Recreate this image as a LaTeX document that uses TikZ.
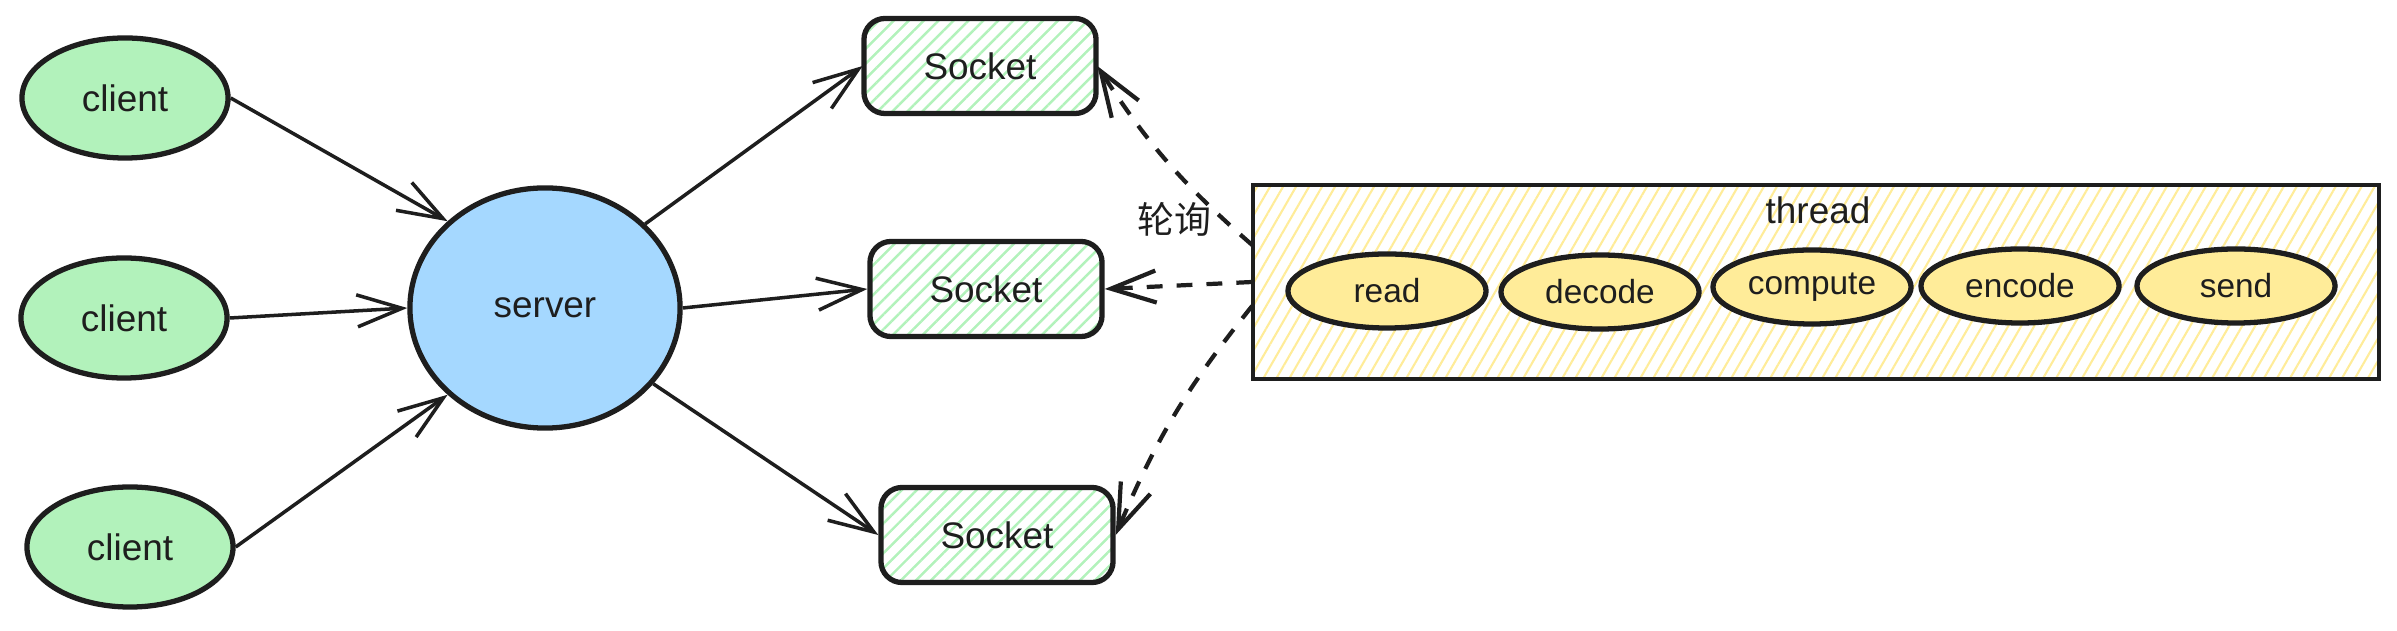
\documentclass[tikz,border=0pt]{standalone}
\usepackage{fontspec}
\setmainfont{Liberation Sans}
\newfontfamily\cjk{Noto Sans CJK SC}
\usetikzlibrary{positioning,arrows.meta,patterns.meta,shapes.geometric}

\definecolor{ink}{HTML}{1E1E1E}
\definecolor{cligreen}{HTML}{B2F2BB}
\definecolor{srvblue}{HTML}{A5D8FF}
\definecolor{stepyellow}{HTML}{FFEC99}

\begin{document}
\begin{tikzpicture}[x=0.01cm, y=-0.01cm,
    every node/.style={font=\fontsize{10.5}{12}\selectfont, text=ink},
    client/.style={ellipse, draw=ink, line width=1.5pt, fill=cligreen,
        minimum width=2.06cm, minimum height=1.2cm},
    server/.style={ellipse, draw=ink, line width=1.5pt, fill=srvblue,
        minimum width=2.7cm, minimum height=2.4cm},
    socket/.style={rectangle, rounded corners=6pt, draw=ink, line width=1.5pt,
        pattern={Lines[angle=45,distance=3pt,line width=0.7pt]}, pattern color=cligreen,
        minimum width=2.32cm, minimum height=0.95cm},
    threadbox/.style={rectangle, draw=ink, line width=1.2pt,
        pattern={Lines[angle=60,distance=3.2pt,line width=0.6pt]}, pattern color=stepyellow,
        minimum width=11.25cm, minimum height=1.94cm},
    stage/.style={ellipse, draw=ink, line width=1.5pt, fill=stepyellow, inner sep=1pt,
        font=\fontsize{9.5}{11}\selectfont, minimum width=1.98cm, minimum height=0.74cm},
    link/.style={draw=ink, line width=1pt, -{Straight Barb[length=4.5mm,width=3.2mm]}},
    poll/.style={link, line width=1.2pt, dash pattern=on 4.5pt off 4pt}]
    \useasboundingbox (0,0) rectangle (2397,631);

    \node[client] (c1) at (125,98) {client};
    \node[client] (c2) at (124,318) {client};
    \node[client] (c3) at (130,547) {client};
    \node[server] (srv) at (545,308) {server};

    \node[socket] (s1) at (980,66) {Socket};
    \node[socket] (s2) at (986,289) {Socket};
    \node[socket] (s3) at (997,535) {Socket};

    \node[threadbox] (thr) at (1816,282) {};
    \node (thrlbl) at (1818,210) {thread};
    \node[stage] (read) at (1387,291) {read};
    \node[stage] (decode) at (1600,292) {decode};
    \node[stage] (compute) at (1812,287) {compute};
    \node[stage] (encode) at (2020,286) {encode};
    \node[stage] (send) at (2236,286) {send};

    \node (polllbl) at (1174,219) {\cjk 轮询};

    \coordinate (t1) at ([yshift=0.37cm]thr.west);
    \coordinate (t3) at ([yshift=-0.24cm]thr.west);

    \draw[link] (c1.east) -- (srv.north west);
    \draw[link] (c2.east) -- (srv.west);
    \draw[link] (c3.east) -- (srv.south west);
    \draw[link] (srv.40) -- (s1.west);
    \draw[link] (srv.east) -- (s2.west);
    \draw[link] (srv.-35) -- (s3.west);

    \draw[poll] (t1) to[bend left=8] (s1.east);
    \draw[poll] (thr.west) -- (s2.east);
    \draw[poll] (t3) to[bend right=8] (s3.east);
\end{tikzpicture}
\end{document}
